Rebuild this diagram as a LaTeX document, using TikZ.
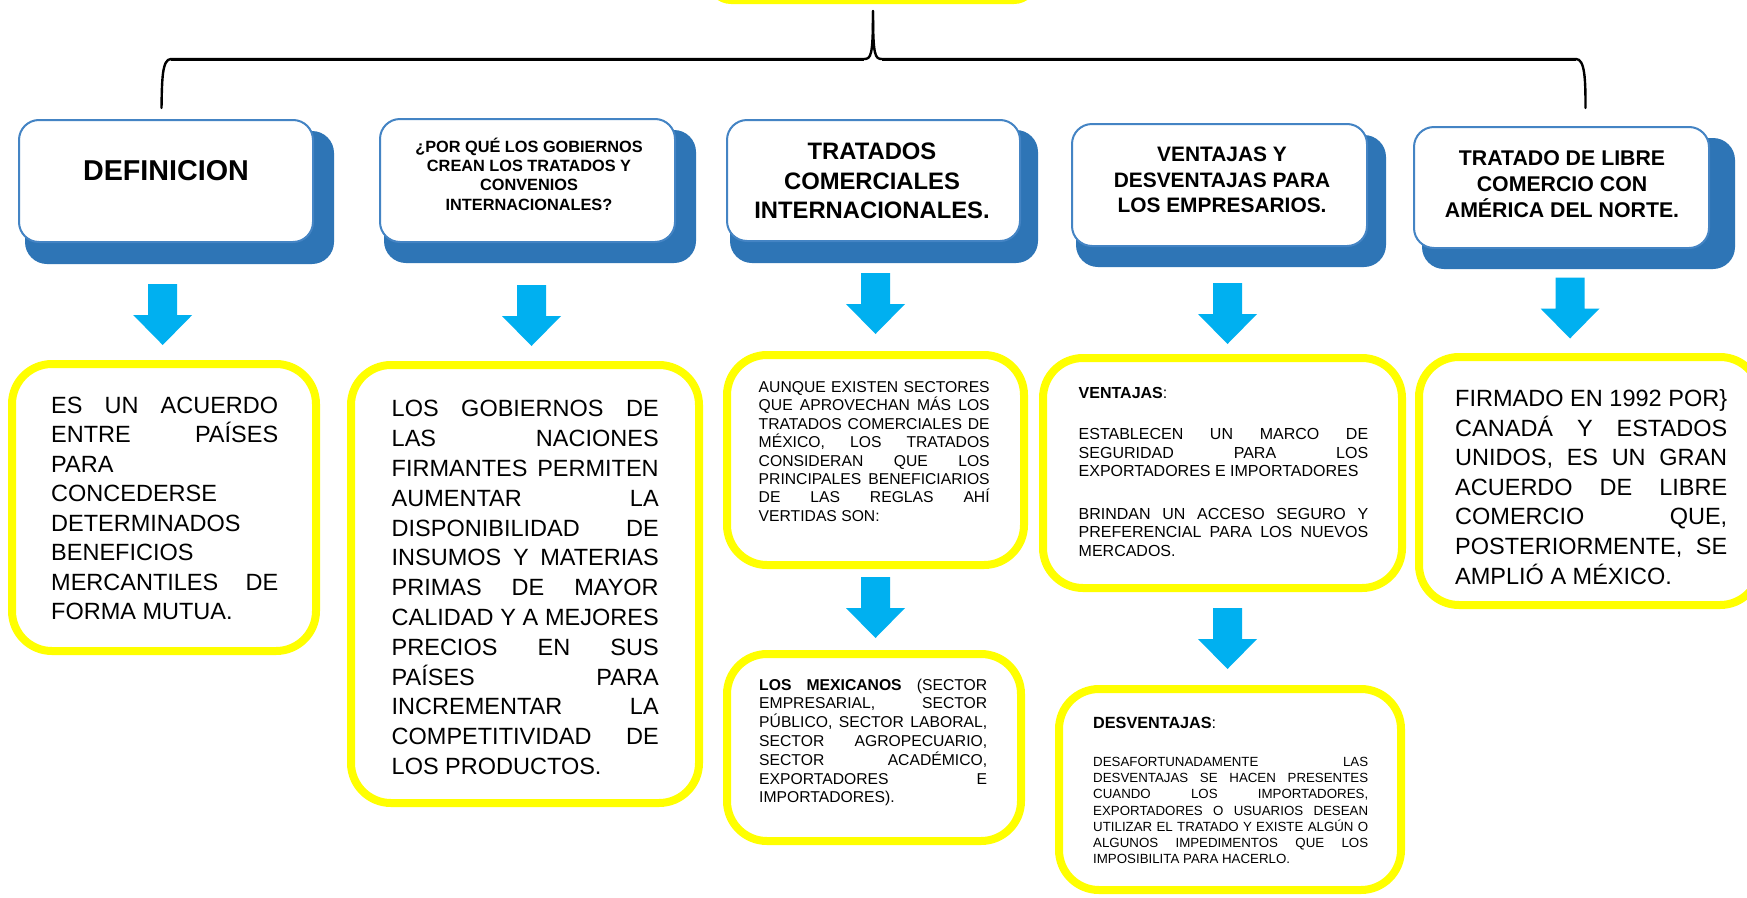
\documentclass[tikz,border=0pt]{standalone}
\usepackage{fontspec}
\setmainfont{Liberation Sans}
\definecolor{hblue}{RGB}{46,117,182}
\definecolor{hborder}{RGB}{68,132,196}
\definecolor{ylw}{RGB}{255,255,0}
\definecolor{acyan}{RGB}{0,176,240}
\hbadness=10000 \hfuzz=6pt \vbadness=10000
\newcommand\jfull[1]{\hbox to\hsize{#1}}
\newcommand\jlast[1]{\hbox to\hsize{#1\hfil}}
\newcommand\blk[4]{\vtop{\fontsize{#2}{#3}\selectfont\hsize=#1\relax\baselineskip=#3\relax\lineskiplimit=-\maxdimen #4}}
\newcommand\hd[3]{\vtop{\fontsize{#1}{#2}\selectfont\bfseries\baselineskip=#2\relax\lineskiplimit=-\maxdimen\halign{\hfil##\hfil\cr#3\crcr}}}
\newcommand\barrow[2]{\fill[acyan] (#1-14.5,#2) -- (#1+14.5,#2) -- (#1+14.5,#2+31) -- (#1+29.5,#2+31) -- (#1,#2+61) -- (#1-29.5,#2+31) -- (#1-14.5,#2+31) -- cycle;}
\begin{document}
\begin{tikzpicture}[x=1pt,y=-1pt,
  sbox/.style={fill=hblue, draw=none, rounded corners=22, inner sep=0},
  hbox/.style={draw=hborder, line width=2, fill=white, rounded corners=20, inner sep=0},
  ybox/.style={draw=ylw, line width=8, fill=white, rounded corners=40, inner sep=0},
  txt/.style={inner sep=0, anchor=base west},
  htxt/.style={inner sep=0, anchor=base},
  bracel/.style={line width=2.4, black, line cap=round}]
\useasboundingbox (0,0) rectangle (1747,897);
\clip (0,0) rectangle (1747,897);
\fill[white] (0,0) rectangle (1747,897);
% top box (cut off)
\node[ybox, rounded corners=20, minimum width=323, minimum height=80] (top) at (872.5,-40) {};
% brace
\coordinate (btop) at (873,11);
\coordinate (bl) at (161.5,108);
\coordinate (br) at (1585.5,108);
\draw[bracel] (bl) .. controls (162,80) and (162,59) .. (171,59) -- (864,59) .. controls (871,59) and (873,56) .. (btop);
\draw[bracel] (btop) .. controls (873,56) and (875,59) .. (882,59) -- (1576,59) .. controls (1585,59) and (1585.5,80) .. (br);
\draw[line width=1.2, black] (171,60.6) -- (864,60.6) (882,60.6) -- (1576,60.6);
% shadows
\node[sbox, minimum width=309, minimum height=133] (s1) at (179.5,197.5) {};
\node[sbox, minimum width=312, minimum height=133] (s2) at (540,196.5) {};
\node[sbox, minimum width=308, minimum height=133] (s3) at (884,196.5) {};
\node[sbox, minimum width=310, minimum height=132] (s4) at (1231,201) {};
\node[sbox, minimum width=313, minimum height=131] (s5) at (1578.5,203.5) {};
% header boxes
\node[hbox, minimum width=294, minimum height=122] (h1) at (166,181) {};
\node[hbox, minimum width=295, minimum height=123] (h2) at (527.5,180.5) {};
\node[hbox, minimum width=293, minimum height=121] (h3) at (873.5,180.5) {};
\node[hbox, minimum width=295, minimum height=122] (h4) at (1219.5,185) {};
\node[hbox, minimum width=295, minimum height=121] (h5) at (1561.5,187.5) {};
% header texts
\node[htxt] (h1t) at (166,180.8) {\hd{28.7pt}{34pt}{DEFINICION}};
\node[htxt] (h2t) at (529,152.3) {\hd{16.3pt}{19.3pt}{¿POR QUÉ LOS GOBIERNOS\cr CREAN LOS TRATADOS Y\cr CONVENIOS\cr INTERNACIONALES?}};
\node[htxt] (h3t) at (872,159.5) {\hd{23.8pt}{29.6pt}{TRATADOS\cr COMERCIALES\cr INTERNACIONALES.}};
\node[htxt] (h4t) at (1222,161.5) {\hd{20.9pt}{25.6pt}{VENTAJAS Y\cr DESVENTAJAS PARA\cr LOS EMPRESARIOS.}};
\node[htxt] (h5t) at (1562,165) {\hd{21.3pt}{26.2pt}{TRATADO DE LIBRE\cr COMERCIO CON\cr AMÉRICA DEL NORTE.}};
% arrows
\barrow{162.7}{284}
\barrow{531.5}{285}
\barrow{875.5}{273}
\barrow{875.5}{577}
\barrow{1227.5}{283}
\barrow{1227.5}{608}
\barrow{1570}{277.5}
% yellow boxes
\node[ybox, minimum width=304, minimum height=287] (y1) at (164,507.5) {};
\node[ybox, minimum width=348, minimum height=438] (y2) at (525,584) {};
\node[ybox, minimum width=297, minimum height=210] (y3) at (875.5,460) {};
\node[ybox, minimum width=294, minimum height=187] (y3b) at (874,747.5) {};
\node[ybox, minimum width=359, minimum height=230] (y4) at (1222.5,473) {};
\node[ybox, minimum width=342, minimum height=201] (y4b) at (1230,789.5) {};
\node[ybox, minimum width=341, minimum height=248] (y5) at (1589.5,481) {};
% texts
\node[txt] (t1) at (51,413.4) {\blk{227pt}{23.5pt}{29.5pt}{%
\jfull{ES UN ACUERDO}\jfull{ENTRE PAÍSES}\jlast{PARA}\jlast{CONCEDERSE}%
\jlast{DETERMINADOS}\jlast{BENEFICIOS}\jfull{MERCANTILES DE}\jlast{FORMA MUTUA.}}};
\node[txt] (t2) at (391.5,416.9) {\blk{267pt}{23.5pt}{29.8pt}{%
\jfull{LOS GOBIERNOS DE}\jfull{LAS NACIONES}\jfull{FIRMANTES PERMITEN}%
\jfull{AUMENTAR LA}\jfull{DISPONIBILIDAD DE}\jfull{INSUMOS Y MATERIAS}%
\jfull{PRIMAS DE MAYOR}\jfull{CALIDAD Y A MEJORES}\jfull{PRECIOS EN SUS}%
\jfull{PAÍSES PARA}\jfull{INCREMENTAR LA}\jfull{COMPETITIVIDAD DE}\jlast{LOS PRODUCTOS.}}};
\node[txt] (t3) at (758.5,392.4) {\blk{231pt}{15.7pt}{18.4pt}{%
\jfull{AUNQUE EXISTEN SECTORES}\jfull{QUE APROVECHAN MÁS LOS}%
\jfull{TRATADOS COMERCIALES DE}\jfull{MÉXICO, LOS TRATADOS}%
\jfull{CONSIDERAN QUE LOS}\jfull{PRINCIPALES BENEFICIARIOS}%
\jfull{DE LAS REGLAS AHÍ}\jlast{VERTIDAS SON:}}};
\node[txt] (t3b) at (759,690) {\blk{228pt}{15.7pt}{18.8pt}{%
\jfull{\textbf{LOS MEXICANOS} (SECTOR}\jfull{EMPRESARIAL, SECTOR}%
\jfull{PÚBLICO, SECTOR LABORAL,}\jfull{SECTOR AGROPECUARIO,}%
\jfull{SECTOR ACADÉMICO,}\jfull{EXPORTADORES E}\jlast{IMPORTADORES).}}};
\node[txt] (t4a) at (1078.5,398.5) {\blk{289.5pt}{16pt}{18.7pt}{\jlast{\textbf{VENTAJAS}:}}};
\node[txt] (t4b) at (1078.5,439.5) {\blk{289.5pt}{16pt}{18.7pt}{%
\jfull{ESTABLECEN UN MARCO DE}\jfull{SEGURIDAD PARA LOS}\jlast{EXPORTADORES E IMPORTADORES}}};
\node[txt] (t4c) at (1078.5,519) {\blk{289.5pt}{16pt}{18.7pt}{%
\jfull{BRINDAN UN ACCESO SEGURO Y}\jfull{PREFERENCIAL PARA LOS NUEVOS}\jlast{MERCADOS.}}};
\node[txt] (t4d) at (1093,728.5) {\blk{275pt}{16.2pt}{18pt}{\jlast{\textbf{DESVENTAJAS}:}}};
\node[txt] (t4e) at (1093,766.5) {\blk{275pt}{13.3pt}{16.2pt}{%
\jfull{DESAFORTUNADAMENTE LAS}\jfull{DESVENTAJAS SE HACEN PRESENTES}%
\jfull{CUANDO LOS IMPORTADORES,}\jfull{EXPORTADORES O USUARIOS DESEAN}%
\jfull{UTILIZAR EL TRATADO Y EXISTE ALGÚN O}\jfull{ALGUNOS IMPEDIMENTOS QUE LOS}%
\jlast{IMPOSIBILITA PARA HACERLO.}}};
\node[txt] (t5) at (1455,406.4) {\blk{272pt}{23.5pt}{29.6pt}{%
\jfull{FIRMADO EN 1992 POR\}}\jfull{CANADÁ Y ESTADOS}\jfull{UNIDOS, ES UN GRAN}%
\jfull{ACUERDO DE LIBRE}\jfull{COMERCIO QUE,}\jfull{POSTERIORMENTE, SE}\jlast{AMPLIÓ A MÉXICO.}}};
\end{tikzpicture}
\end{document}
